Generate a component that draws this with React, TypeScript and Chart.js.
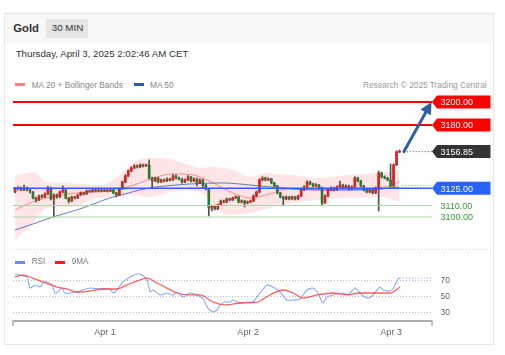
import React, { useEffect, useRef } from "react";
import { Chart, registerables } from "chart.js";
Chart.register(...registerables);

// ---------- data ----------
const firstOpen = 3121.7;
const closes = [
  3124.4, 3125.2, 3123.5, 3125.2, 3123.5, 3121.7, 3116.5, 3114.8, 3118.3, 3117.4,
  3120.0, 3125.2, 3115.7, 3119.1, 3117.4, 3121.7, 3123.5, 3116.5, 3113.9, 3117.4,
  3116.5, 3119.1, 3120.9, 3120.0, 3122.6, 3122.2, 3123.5, 3122.6, 3123.5, 3122.6,
  3123.0, 3122.6, 3123.5, 3120.9, 3119.1, 3124.4, 3130.4, 3135.7, 3140.0, 3142.6,
  3144.4, 3143.5, 3145.2, 3144.4, 3145.2, 3133.9, 3131.3, 3133.9, 3130.4, 3132.2,
  3131.3, 3133.0, 3132.2, 3135.7, 3133.9, 3133.0, 3130.4, 3132.2, 3134.8, 3131.3,
  3133.0, 3129.6, 3132.2, 3127.8, 3124.4, 3107.8, 3109.6, 3107.0, 3110.4, 3113.9,
  3113.0, 3115.7, 3114.8, 3116.5, 3117.4, 3113.0, 3113.9, 3112.2, 3113.0, 3113.9,
  3118.3, 3121.7, 3132.2, 3133.9, 3132.2, 3133.0, 3129.6, 3127.0, 3120.9, 3117.4,
  3115.7, 3117.4, 3115.7, 3117.4, 3115.7, 3118.3, 3123.5, 3126.1, 3130.4, 3128.7,
  3127.0, 3127.8, 3125.2, 3112.2, 3118.3, 3123.5, 3125.2, 3123.5, 3126.1, 3127.8,
  3125.2, 3127.0, 3124.4, 3126.1, 3133.9, 3131.3, 3127.0, 3123.5, 3121.7, 3123.5,
  3120.9, 3125.2, 3138.3, 3134.8, 3133.9, 3132.2, 3127.0, 3145.2, 3156.5, 3156.85,
];
const highs = [
  3125.6, 3126.5, 3126.1, 3127.8, 3125.9, 3124.2, 3122.3, 3117.3, 3119.1, 3119.4,
  3120.9, 3126.6, 3126.0, 3120.2, 3120.0, 3122.6, 3127.0, 3124.1, 3117.2, 3118.3,
  3118.0, 3119.9, 3121.8, 3121.7, 3123.4, 3123.5, 3124.3, 3124.1, 3124.4, 3124.0,
  3123.9, 3123.8, 3124.6, 3124.0, 3121.5, 3125.3, 3131.3, 3136.8, 3141.0, 3143.7,
  3145.6, 3145.3, 3146.3, 3146.0, 3146.0, 3149.6, 3134.6, 3134.8, 3134.5, 3133.0,
  3132.9, 3134.0, 3133.8, 3136.9, 3136.4, 3134.8, 3133.7, 3133.1, 3135.9, 3135.4,
  3134.1, 3133.8, 3133.2, 3132.9, 3128.5, 3125.0, 3110.5, 3110.3, 3111.3, 3114.8,
  3114.7, 3116.5, 3116.4, 3117.4, 3118.5, 3118.0, 3114.9, 3114.6, 3114.0, 3114.8,
  3119.2, 3122.6, 3133.3, 3135.0, 3134.7, 3134.1, 3133.7, 3130.2, 3127.6, 3121.5,
  3118.1, 3118.4, 3118.0, 3118.2, 3118.1, 3119.1, 3124.4, 3127.2, 3131.5, 3131.2,
  3129.4, 3129.0, 3128.5, 3125.9, 3119.2, 3124.4, 3126.2, 3126.0, 3127.1, 3131.3,
  3128.6, 3127.9, 3127.7, 3127.0, 3135.0, 3134.6, 3132.0, 3127.6, 3124.2, 3124.3,
  3124.1, 3126.1, 3140.0, 3139.0, 3135.8, 3134.6, 3146.1, 3146.3, 3157.6, 3158.3,
];
const lows = [
  3120.9, 3123.6, 3122.8, 3122.9, 3122.6, 3120.8, 3115.6, 3113.0, 3114.2, 3116.5,
  3116.9, 3119.4, 3114.8, 3100.0, 3116.3, 3116.8, 3121.0, 3115.7, 3112.2, 3113.2,
  3115.6, 3115.9, 3118.5, 3119.2, 3119.5, 3121.4, 3121.6, 3121.9, 3122.0, 3121.8,
  3122.0, 3121.7, 3122.1, 3120.1, 3117.4, 3118.6, 3123.8, 3129.7, 3135.0, 3139.2,
  3141.9, 3142.6, 3142.8, 3143.5, 3143.9, 3133.0, 3125.2, 3130.6, 3129.6, 3129.8,
  3130.4, 3130.7, 3131.4, 3131.6, 3133.1, 3132.2, 3129.5, 3129.8, 3131.6, 3130.5,
  3130.7, 3127.0, 3129.0, 3125.2, 3123.5, 3100.9, 3105.2, 3106.1, 3106.3, 3109.8,
  3112.2, 3112.4, 3114.0, 3114.2, 3115.8, 3112.2, 3112.3, 3108.7, 3111.5, 3112.3,
  3113.3, 3117.6, 3121.0, 3131.4, 3131.3, 3131.5, 3128.8, 3126.2, 3120.0, 3116.5,
  3110.4, 3115.0, 3114.9, 3115.1, 3114.8, 3115.0, 3117.7, 3122.8, 3125.5, 3127.9,
  3126.1, 3126.3, 3124.4, 3110.4, 3111.5, 3117.6, 3122.8, 3122.7, 3122.9, 3125.5,
  3124.4, 3124.6, 3123.5, 3123.7, 3125.4, 3130.5, 3126.1, 3122.6, 3120.9, 3121.0,
  3120.1, 3120.3, 3105.2, 3134.0, 3133.1, 3131.4, 3126.2, 3126.4, 3144.6, 3155.9,
];

const ma50Idx = [0, 6, 12.7, 21.8, 31.8, 36.9, 41.9, 46.3, 48.6, 58.7, 69.8, 78.8, 89.9, 101.3, 118.1, 125.8, 128.8];
const ma50Val = [3088.7, 3093.9, 3100.0, 3107.0, 3116.5, 3120.0, 3123.5, 3125.7, 3126.5, 3128.7, 3129.6, 3127.8, 3125.2, 3123.5, 3123.5, 3125.2, 3126.1];

const ma20Idx = [0, 5, 11.7, 20.8, 31.8, 35.2, 41.9, 45.3, 53, 59.7, 64.4, 73.1, 78.8, 85.5, 91.2, 101.3, 112.4, 121.4, 126.8, 129];
const ma20Val = [3106.1, 3112.2, 3117.4, 3120.9, 3122.6, 3124.3, 3129.6, 3133.0, 3137.4, 3136.5, 3132.2, 3120.9, 3116.5, 3120.0, 3124.3, 3123.5, 3123.5, 3125.2, 3127.8, 3131.3];

const bbUpIdx = [0, 6, 10.7, 17.4, 28.5, 34.2, 39.6, 44.3, 48.6, 56.4, 62.1, 66.4, 73.1, 78.8, 84.5, 92.2, 101.3, 112.4, 121.4, 129];
const bbUpVal = [3135.7, 3139.1, 3130.4, 3129.6, 3127.8, 3134.8, 3147.0, 3151.3, 3151.3, 3147.0, 3142.6, 3143.5, 3140.9, 3134.8, 3138.3, 3136.5, 3133.9, 3136.5, 3138.3, 3141.0];

const bbLoIdx = [0, 6, 10.7, 17.4, 28.5, 34.2, 39.6, 45.3, 51, 56.4, 62.1, 66.4, 71.1, 78.8, 86.5, 101.3, 112.4, 123.4, 129];
const bbLoVal = [3080.0, 3094.8, 3107.8, 3108.7, 3116.5, 3117.4, 3119.1, 3117.4, 3120.9, 3123.5, 3121.7, 3112.2, 3101.7, 3103.5, 3108.7, 3114.8, 3116.5, 3117.4, 3113.0];

const rsiIdx = [0, 1.6, 4, 5, 6.7, 8.4, 9.4, 10.7, 12.4, 13.4, 14.4, 15.7, 16.7, 18.4, 20.8, 22.8, 25.1, 28.5, 31.8, 32.9,
  34.2, 36.2, 38.6, 40.9, 42.6, 44.3, 45.3, 46.3, 48.6, 51, 53, 54.3, 56.4, 58.7, 61.1, 63.1, 64.7, 66.4, 67.8, 68.8,
  70.4, 72.1, 73.1, 75.5, 77.8, 79.8, 82.2, 84.5, 86.5, 88.9, 91.2, 93.3, 95.6, 97.9, 99.9, 101.6, 103.3, 104.7, 106.7, 110,
  111.7, 114.1, 116.4, 118.4, 120.1, 122.4, 123.5, 125.8, 126.8, 128.5, 129.2];
const rsiVal = [77.6, 76.3, 73.8, 59.8, 63.7, 61.1, 66.2, 67.5, 63.7, 53.5, 54.8, 59.8, 53.5, 53.5, 54.8, 57.3, 59.8, 58.6, 58.6, 53.5,
  57.3, 67.5, 73.8, 77.6, 76.3, 70.0, 54.8, 57.3, 51.0, 53.5, 51.0, 54.8, 48.4, 53.5, 51.0, 45.9, 34.4, 29.4, 31.9, 38.3,
  42.0, 42.0, 44.6, 40.8, 42.0, 42.0, 53.5, 63.7, 61.1, 54.8, 44.6, 44.6, 45.9, 57.3, 59.8, 53.5, 40.8, 48.4, 51.0, 53.5,
  51.0, 59.8, 51.0, 47.1, 51.0, 61.1, 57.3, 56.0, 58.6, 71.3, 72.5];

const ma9Idx = [0, 2.7, 6, 9.4, 14.1, 17.4, 20.8, 25.1, 29.5, 34.2, 37.5, 40.9, 44.3, 47.6, 51, 54.3, 58.7, 62.1, 66.4, 71.1,
  75.5, 81.2, 85.5, 89.9, 93.3, 96.6, 101.3, 106.7, 111.4, 115.7, 121.4, 125.8, 129.2];
const ma9Val = [73.8, 76.3, 72.5, 67.5, 61.1, 58.6, 54.8, 56.0, 58.6, 58.6, 63.7, 68.7, 72.5, 66.2, 59.8, 53.5, 51.0, 51.0, 42.0, 38.3,
  40.8, 42.0, 51.0, 57.3, 53.5, 47.1, 51.0, 53.5, 51.0, 53.5, 53.5, 53.5, 61.1];

const levelValues = [3200, 3180, 3125, 3110, 3100];
const targetValue = 3200;
const xTickIdx = [30.2, 78.2, 126.2];
const xTickLabels = ["Apr 1", "Apr 2", "Apr 3"];
const rsiLevels = [70, 50, 30];

// ---------- styles ----------
const FONT = '"Liberation Sans", Arial, sans-serif';
const X_MIN = -0.7;
const X_MAX = 139.9;
const levelStyles = [
  { line: "#ff0000", width: 2, tag: "#ff0000", text: "#ffffff" },
  { line: "#ff0000", width: 2, tag: "#ff0000", text: "#ffffff" },
  { line: "#2962ff", width: 1.5, tag: "#2962ff", text: "#ffffff" },
  { line: "#a8d8a8", width: 1.2, tag: null, text: "#3a9a3a" },
  { line: "#a8d8a8", width: 1.2, tag: null, text: "#3a9a3a" },
];

const opens = closes.map((c, i) => (i === 0 ? firstOpen : closes[i - 1]));
const pts = (xs: number[], ys: number[]) => xs.map((x, i) => ({ x, y: ys[i] }));

function drawTag(ctx: CanvasRenderingContext2D, tipX: number, yc: number, text: string, bg: string | null, fg: string) {
  const h = 13;
  const x0 = tipX + 5;
  const x1 = 490.5;
  if (bg) {
    ctx.beginPath();
    ctx.moveTo(tipX, yc);
    ctx.lineTo(x0, yc - h / 2);
    ctx.lineTo(x1, yc - h / 2);
    ctx.lineTo(x1, yc + h / 2);
    ctx.lineTo(x0, yc + h / 2);
    ctx.closePath();
    ctx.fillStyle = bg;
    ctx.fill();
  }
  ctx.fillStyle = fg;
  ctx.font = `9px ${FONT}`;
  ctx.textAlign = "left";
  ctx.textBaseline = "alphabetic";
  ctx.fillText(text, 440.5, yc + 3.3);
}

const mainOverlay = {
  id: "mainOverlay",
  afterDatasetsDraw(chart: any) {
    const { ctx, chartArea } = chart;
    const xs = chart.scales.x;
    const ys = chart.scales.y;
    const tipX = chartArea.right;
    ctx.save();
    levelValues.forEach((v, k) => {
      const st = levelStyles[k];
      const py = ys.getPixelForValue(v);
      ctx.setLineDash([]);
      ctx.strokeStyle = st.line;
      ctx.lineWidth = st.width;
      ctx.beginPath();
      ctx.moveTo(chartArea.left, py);
      ctx.lineTo(tipX, py);
      ctx.stroke();
      drawTag(ctx, tipX, py, v.toFixed(2), st.tag, st.text);
    });
    // MA50 dotted extension
    const lastMa50 = ma50Val[ma50Val.length - 1];
    const pyMa = ys.getPixelForValue(lastMa50) - 1.5;
    ctx.setLineDash([1, 2]);
    ctx.lineWidth = 1;
    ctx.strokeStyle = "rgba(70,110,200,0.7)";
    ctx.beginPath();
    ctx.moveTo(xs.getPixelForValue(closes.length), pyMa);
    ctx.lineTo(tipX, pyMa);
    ctx.stroke();
    // last price
    const last = closes[closes.length - 1];
    const pyL = ys.getPixelForValue(last);
    ctx.strokeStyle = "#555";
    ctx.beginPath();
    ctx.moveTo(xs.getPixelForValue(closes.length + 0.4), pyL);
    ctx.lineTo(tipX, pyL);
    ctx.stroke();
    ctx.setLineDash([]);
    drawTag(ctx, tipX, pyL, last.toFixed(2), "#333333", "#ffffff");
    // arrow
    const sx = xs.getPixelForValue(closes.length + 0.5);
    const sy = pyL;
    const ex = tipX - 0.5;
    const ey = ys.getPixelForValue(targetValue);
    const dx = ex - sx, dy = ey - sy;
    const len = Math.hypot(dx, dy);
    const ux = dx / len, uy = dy / len;
    const headL = 12, headW = 6;
    const bx = ex - ux * headL, by = ey - uy * headL;
    ctx.strokeStyle = "#2f5ea6";
    ctx.fillStyle = "#2f5ea6";
    ctx.lineWidth = 3;
    ctx.lineCap = "round";
    ctx.beginPath();
    ctx.moveTo(sx, sy);
    ctx.lineTo(bx, by);
    ctx.stroke();
    ctx.beginPath();
    ctx.moveTo(ex, ey);
    ctx.lineTo(bx - uy * headW, by + ux * headW);
    ctx.lineTo(bx + uy * headW, by - ux * headW);
    ctx.closePath();
    ctx.fill();
    ctx.restore();
  },
};

const rsiOverlay = {
  id: "rsiOverlay",
  beforeDatasetsDraw(chart: any) {
    const { ctx, chartArea } = chart;
    const ys = chart.scales.y;
    ctx.save();
    ctx.lineWidth = 1;
    ctx.setLineDash([1, 2]);
    ctx.strokeStyle = "#d6d6d6";
    ctx.beginPath();
    ctx.moveTo(chartArea.left, 4.5);
    ctx.lineTo(492, 4.5);
    ctx.stroke();
    ctx.strokeStyle = "#bdbdbd";
    rsiLevels.forEach((v) => {
      const py = Math.round(ys.getPixelForValue(v)) + 0.5;
      ctx.beginPath();
      ctx.moveTo(chartArea.left, py);
      ctx.lineTo(chartArea.right, py);
      ctx.stroke();
    });
    ctx.restore();
  },
  afterDatasetsDraw(chart: any) {
    const { ctx, chartArea } = chart;
    const xs = chart.scales.x;
    const ys = chart.scales.y;
    ctx.save();
    // extension of RSI
    const lx = rsiIdx[rsiIdx.length - 1];
    const lv = rsiVal[rsiVal.length - 1];
    ctx.setLineDash([1, 2]);
    ctx.strokeStyle = "rgba(90,130,235,0.7)";
    ctx.lineWidth = 1;
    ctx.beginPath();
    ctx.moveTo(xs.getPixelForValue(lx), ys.getPixelForValue(lv));
    ctx.lineTo(chartArea.right, ys.getPixelForValue(lv));
    ctx.stroke();
    ctx.setLineDash([]);
    // level labels
    ctx.fillStyle = "#666";
    ctx.font = `8.5px ${FONT}`;
    ctx.textAlign = "left";
    ctx.textBaseline = "alphabetic";
    rsiLevels.forEach((v) => {
      ctx.fillText(String(v), 440.5, ys.getPixelForValue(v) + 3.2);
    });
    // x axis
    const by = chartArea.bottom;
    ctx.strokeStyle = "#adadad";
    ctx.lineWidth = 2;
    ctx.beginPath();
    ctx.moveTo(chartArea.left - 0.5, by);
    ctx.lineTo(chartArea.right + 0.5, by);
    ctx.stroke();
    ctx.lineWidth = 1.5;
    ctx.beginPath();
    ctx.moveTo(chartArea.left, by);
    ctx.lineTo(chartArea.left, by + 5);
    ctx.moveTo(chartArea.right, by);
    ctx.lineTo(chartArea.right, by + 5);
    ctx.stroke();
    ctx.fillStyle = "#666";
    ctx.font = `9px ${FONT}`;
    ctx.textAlign = "center";
    xTickIdx.forEach((t, k) => {
      ctx.fillText(xTickLabels[k], xs.getPixelForValue(t), by + 14);
    });
    ctx.restore();
  },
};

export default function App() {
  const mainRef = useRef<HTMLCanvasElement>(null);
  const rsiRef = useRef<HTMLCanvasElement>(null);

  useEffect(() => {
    const wickData = closes.map((_, i) => ({ x: i, y: [lows[i], highs[i]] }));
    const bodyData = closes.map((c, i) => ({ x: i, y: [opens[i], c] }));
    const bodyColors = closes.map((c, i) => (c >= opens[i] ? "#e01f1f" : "#2c7a2e"));

    const main = new Chart(mainRef.current as HTMLCanvasElement, {
      type: "line",
      data: {
        datasets: [
          {
            type: "line",
            data: pts(bbUpIdx, bbUpVal),
            borderWidth: 0,
            pointRadius: 0,
            fill: "+1",
            backgroundColor: "rgba(255,80,80,0.15)",
            tension: 0.4,
            cubicInterpolationMode: "monotone",
            order: 20,
          },
          {
            type: "line",
            data: pts(bbLoIdx, bbLoVal),
            borderWidth: 0,
            pointRadius: 0,
            fill: false,
            tension: 0.4,
            cubicInterpolationMode: "monotone",
            order: 19,
          },
          {
            type: "line",
            data: pts(ma20Idx, ma20Val),
            borderColor: "rgba(255,100,100,0.7)",
            borderWidth: 1,
            pointRadius: 0,
            fill: false,
            cubicInterpolationMode: "monotone",
            order: 10,
          },
          {
            type: "line",
            data: pts(ma50Idx, ma50Val),
            borderColor: "rgba(60,95,170,0.8)",
            borderWidth: 1,
            pointRadius: 0,
            fill: false,
            cubicInterpolationMode: "monotone",
            order: 9,
          },
          {
            type: "bar",
            data: wickData as any,
            backgroundColor: "#505050",
            barThickness: 1,
            grouped: false,
            borderWidth: 0,
            order: 3,
          },
          {
            type: "bar",
            data: bodyData as any,
            backgroundColor: bodyColors,
            barThickness: 2,
            minBarLength: 1,
            grouped: false,
            borderWidth: 0,
            order: 2,
          },
        ] as any,
      },
      options: {
        animation: false,
        responsive: false,
        events: [],
        layout: { padding: { left: 13, right: 73, top: 0, bottom: 0 } },
        plugins: { legend: { display: false }, tooltip: { enabled: false } },
        scales: {
          x: { type: "linear", min: X_MIN, max: X_MAX, display: false, offset: false },
          y: { type: "linear", min: 3071.3, max: 3210.4, display: false, beginAtZero: false },
        },
      } as any,
      plugins: [mainOverlay],
    });

    const rsi = new Chart(rsiRef.current as HTMLCanvasElement, {
      type: "line",
      data: {
        datasets: [
          {
            data: pts(ma9Idx, ma9Val),
            borderColor: "rgba(255,45,45,0.75)",
            borderWidth: 1.3,
            pointRadius: 0,
            fill: false,
            cubicInterpolationMode: "monotone",
            order: 1,
          },
          {
            data: pts(rsiIdx, rsiVal),
            borderColor: "rgba(100,140,240,0.75)",
            borderWidth: 1.1,
            pointRadius: 0,
            fill: false,
            tension: 0.2,
            order: 2,
          },
        ],
      },
      options: {
        animation: false,
        responsive: false,
        events: [],
        layout: { padding: { left: 13, right: 73, top: 11, bottom: 24 } },
        plugins: { legend: { display: false }, tooltip: { enabled: false } },
        scales: {
          x: { type: "linear", min: X_MIN, max: X_MAX, display: false },
          y: { type: "linear", min: 17.94, max: 100.5, display: false },
        },
      } as any,
      plugins: [rsiOverlay],
    });

    return () => {
      main.destroy();
      rsi.destroy();
    };
  }, []);

  const txt = (extra: React.CSSProperties): React.CSSProperties => ({
    position: "absolute",
    whiteSpace: "nowrap",
    lineHeight: 1,
    fontFamily: FONT,
    ...extra,
  });

  return (
    <div style={{ position: "absolute", left: 0, top: 0, width: 505, height: 355, background: "#fff", overflow: "hidden" }}>
      <div style={{ position: "absolute", left: 4, top: 13, width: 490, height: 332, border: "1px solid #e8e8e8", boxSizing: "border-box" }} />
      <div style={{ position: "absolute", left: 5, top: 14, width: 488, height: 29, background: "#f7f7f7" }} />
      <div style={txt({ left: 13.3, top: 23.1, fontSize: 11.3, fontWeight: 700, color: "#333" })}>Gold</div>
      <div style={{ position: "absolute", left: 46, top: 19, width: 42, height: 19, background: "#e5e5e5" }} />
      <div style={txt({ left: 51.7, top: 23.4, fontSize: 9.8, color: "#333" })}>30 MIN</div>
      <div style={txt({ left: 15.7, top: 48.5, fontSize: 9.7, color: "#333" })}>Thursday, April 3, 2025 2:02:46 AM CET</div>

      <div style={{ position: "absolute", left: 15, top: 83, width: 10, height: 3, background: "#ff8080" }} />
      <div style={txt({ left: 31.7, top: 80.5, fontSize: 8.3, color: "#888" })}>MA 20 + Bollinger Bands</div>
      <div style={{ position: "absolute", left: 134, top: 83, width: 10, height: 3, background: "#2b5ba6" }} />
      <div style={txt({ left: 150, top: 80.5, fontSize: 8.3, color: "#888" })}>MA 50</div>
      <div style={txt({ right: 18.3, top: 80.7, fontSize: 8.3, color: "#9a9a9a" })}>Research © 2025 Trading Central</div>

      <canvas ref={mainRef} width={505} height={160} style={{ position: "absolute", left: 0, top: 90, width: 505, height: 160 }} />
      <canvas ref={rsiRef} width={505} height={100} style={{ position: "absolute", left: 0, top: 245, width: 505, height: 100 }} />

      <div style={{ position: "absolute", left: 15, top: 261, width: 10, height: 3, background: "#6a8de8" }} />
      <div style={txt({ left: 31.7, top: 258, fontSize: 8.2, color: "#777" })}>RSI</div>
      <div style={{ position: "absolute", left: 55, top: 261, width: 10, height: 3, background: "#ff1a1a" }} />
      <div style={txt({ left: 71.7, top: 258, fontSize: 8.2, color: "#777" })}>9MA</div>
    </div>
  );
}
